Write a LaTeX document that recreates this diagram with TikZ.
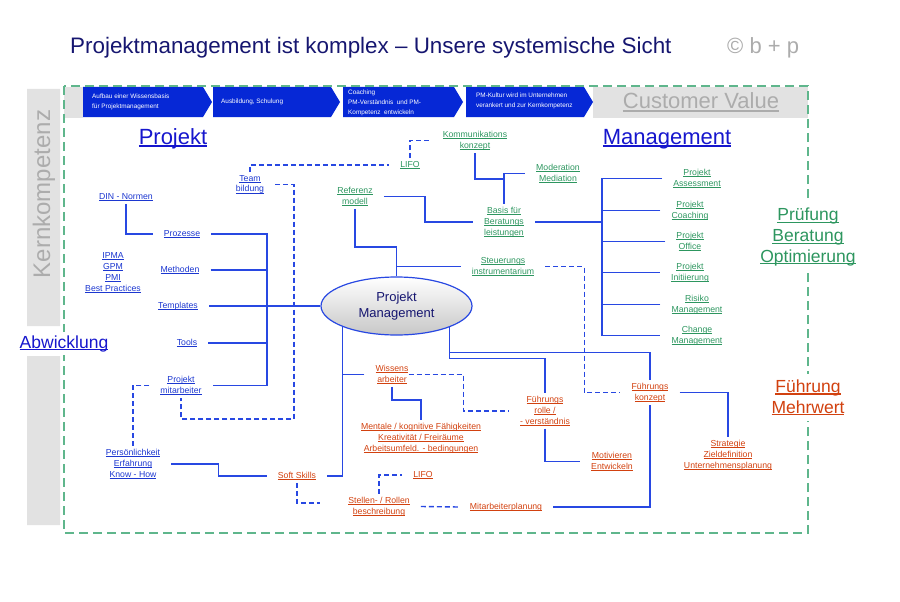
\documentclass[tikz,border=0pt]{standalone}
\usepackage{fontspec}
\setmainfont{Liberation Sans}
\usepackage{tikz}
\usetikzlibrary{calc,shapes.geometric,positioning}

\definecolor{pmblue}{RGB}{28,55,208}
\definecolor{lineblue}{RGB}{40,72,226}
\definecolor{bigblue}{RGB}{22,22,205}
\definecolor{pmgreen}{RGB}{45,150,95}
\definecolor{pmorange}{RGB}{210,65,15}
\definecolor{pmnavy}{RGB}{22,22,112}
\definecolor{pmgray}{RGB}{172,172,172}
\definecolor{bandgray}{RGB}{226,226,226}
\definecolor{chevblue}{RGB}{6,40,214}
\definecolor{framegreen}{RGB}{95,182,140}

\newsavebox\lnkbox
\newcommand\ulink[1]{\sbox\lnkbox{#1}\rlap{\rule[-0.13em]{\wd\lnkbox}{0.07em}}\usebox\lnkbox}

\begin{document}
\begin{tikzpicture}[x=1pt,y=-1pt,
  conn/.style={draw=lineblue,line width=1.4pt},
  dconn/.style={conn,dash pattern=on 5pt off 3pt},
  lbl/.style={font=\fontsize{8.7}{10.8}\selectfont,align=center,inner xsep=11pt,inner ysep=3pt},
  bluelbl/.style={lbl,text=pmblue},
  greenlbl/.style={lbl,text=pmgreen},
  redlbl/.style={lbl,text=pmorange},
  biglbl/.style={font=\fontsize{22}{26}\selectfont,anchor=base,inner sep=0pt},
  sidelbl/.style={font=\fontsize{17.5}{20.7}\selectfont,align=center,fill=white,inner xsep=3pt,inner ysep=6pt},
  chevtxt/.style={font=\fontsize{6.4}{10}\selectfont,text=white,align=left,anchor=west,inner sep=0pt}]

\useasboundingbox (0,0) rectangle (900,602);

\fill[bandgray] (27,89) rectangle (60,326) (27,356) rectangle (60,525);
\fill[bandgray] (64,87) rectangle (808,118);
\fill[white] (83,87) rectangle (593,118);
\foreach \a/\b in {83/212,213/340,343/463,466/593}
  \fill[chevblue] (\a,87) -- (\b-9,87) -- (\b,102) -- (\b-9,117) -- (\a,117) -- cycle;
\draw[framegreen,line width=1.3pt,dash pattern=on 9pt off 5pt] (64,86) rectangle (808,533);

\node[rotate=90,text=pmgray,font=\fontsize{24}{27}\selectfont] (kern) at (44,194) {Kernkompetenz};
\node[anchor=base west,text=pmnavy,font=\fontsize{22.4}{26}\selectfont,inner sep=0pt] (title) at (70,54)
  {Projektmanagement ist komplex – Unsere systemische Sicht};
\node[anchor=base west,text=pmgray,font=\fontsize{22}{26}\selectfont,inner sep=0pt] (copy) at (727,54) {© b + p};

\node[chevtxt] (chev1) at (92,101.5) {Aufbau einer Wissensbasis\\für Projektmanagement};
\node[chevtxt] (chev2) at (221,102) {Ausbildung, Schulung};
\node[chevtxt] (chev3) at (348,103) {Coaching\\PM-Verständnis\ \ und PM-\\Kompetenz\ \ entwickeln};
\node[chevtxt] (chev4) at (476,101) {PM-Kultur wird im Unternehmen\\verankert und zur Kernkompetenz};
\node[biglbl,text=pmgray] (cval) at (701,109) {\ulink{Customer Value}};

\node[biglbl,text=bigblue] (projekt) at (173,144) {\ulink{Projekt}};
\node[biglbl,text=bigblue] (mgmt) at (667,144) {\ulink{Management}};
\node[font=\fontsize{17.5}{21}\selectfont,anchor=base,text=bigblue,fill=white,inner sep=3pt] (abw) at (64,348) {\ulink{Abwicklung}};
\node[sidelbl,text=pmgreen] (pruef) at (808,237) {\ulink{Prüfung}\\\ulink{Beratung}\\\ulink{Optimierung}};
\node[sidelbl,text=pmorange] (fuehr) at (808,397.5) {\ulink{Führung}\\\ulink{Mehrwert}};

\node[ellipse,draw=lineblue,line width=1.2pt,top color=white,bottom color=black!22,
  minimum width=151pt,minimum height=58pt,inner sep=0pt,align=center,text=pmnavy,
  font=\fontsize{13}{16}\selectfont] (pm) at (396.5,306) {Projekt\\Management};

\node[bluelbl] (team) at (250,184.5) {\ulink{Team}\\\ulink{bildung}};
\node[bluelbl] (din) at (126,197) {\ulink{DIN - Normen}};
\node[bluelbl] (proz) at (182,234) {\ulink{Prozesse}};
\node[bluelbl] (ipma) at (113,272.5) {\ulink{IPMA}\\\ulink{GPM}\\\ulink{PMI}\\\ulink{Best Practices}};
\node[bluelbl] (meth) at (180,270) {\ulink{Methoden}};
\node[bluelbl] (templ) at (178,306) {\ulink{Templates}};
\node[bluelbl] (tools) at (187,343) {\ulink{Tools}};
\node[bluelbl] (mitarb) at (181,385.5) {\ulink{Projekt}\\\ulink{mitarbeiter}};
\node[bluelbl] (pers) at (133,464) {\ulink{Persönlichkeit}\\\ulink{Erfahrung}\\\ulink{Know - How}};

\node[greenlbl] (komm) at (475,140.5) {\ulink{Kommunikations}\\\ulink{konzept}};
\node[greenlbl] (lifo1) at (410,165) {\ulink{LIFO}};
\node[greenlbl] (moder) at (558,173.5) {\ulink{Moderation}\\\ulink{Mediation}};
\node[greenlbl] (ref) at (355,196.5) {\ulink{Referenz}\\\ulink{modell}};
\node[greenlbl] (basis) at (504,222) {\ulink{Basis für}\\\ulink{Beratungs}\\\ulink{leistungen}};
\node[greenlbl] (steuer) at (503,266.5) {\ulink{Steuerungs}\\\ulink{instrumentarium}};
\node[greenlbl] (assess) at (697,178.5) {\ulink{Projekt}\\\ulink{Assessment}};
\node[greenlbl] (coach) at (690,210.5) {\ulink{Projekt}\\\ulink{Coaching}};
\node[greenlbl] (office) at (690,241.5) {\ulink{Projekt}\\\ulink{Office}};
\node[greenlbl] (init) at (690,272.5) {\ulink{Projekt}\\\ulink{Initiierung}};
\node[greenlbl] (risiko) at (697,304.5) {\ulink{Risiko}\\\ulink{Management}};
\node[greenlbl] (change) at (697,335.5) {\ulink{Change}\\\ulink{Management}};

\node[redlbl] (wissen) at (392,374.5) {\ulink{Wissens}\\\ulink{arbeiter}};
\node[redlbl] (mental) at (421,438.5) {\ulink{Mentale / kognitive Fähigkeiten}\\\ulink{Kreativität / Freiräume}\\\ulink{Arbeitsumfeld. - bedingungen}};
\node[redlbl] (frolle) at (545,411) {\ulink{Führungs}\\\ulink{rolle /}\\\ulink{- verständnis}};
\node[redlbl] (fkonz) at (650,392.5) {\ulink{Führungs}\\\ulink{konzept}};
\node[redlbl] (motiv) at (612,461.5) {\ulink{Motivieren}\\\ulink{Entwickeln}};
\node[redlbl] (strat) at (728,455.5) {\ulink{Strategie}\\\ulink{Zieldefinition}\\\ulink{Unternehmensplanung}};
\node[redlbl] (soft) at (297,476) {\ulink{Soft Skills}};
\node[redlbl] (lifo2) at (423,475) {\ulink{LIFO}};
\node[redlbl] (stellen) at (379,506.5) {\ulink{Stellen- / Rollen}\\\ulink{beschreibung}};
\node[redlbl] (mplan) at (506,507) {\ulink{Mitarbeiterplanung}};

\coordinate (lbus) at (267,306);
\coordinate (rbus) at (602,221);
\coordinate (tcorner) at (294,419);

\draw[conn] (proz.east) -| (lbus) |- (mitarb.east);
\draw[conn] (meth.east) -- (meth.east -| lbus) (tools.east) -- (tools.east -| lbus);
\draw[conn] (templ.east) -- (pm.west);
\draw[conn] (din.south) |- (proz.west);
\draw[dconn] (team.north) |- (lifo1.west);
\draw[dconn] (lifo1.north) |- (komm.west);
\draw[dconn] (team.east) -| (tcorner) -| (mitarb.south);
\draw[dconn] (mitarb.west) -| (pers.north);
\draw[conn] (pers.east) -- ++(47,0) |- (soft.west);
\draw[conn] (soft.east) -| (pm.201.6);
\draw[conn] (wissen.west) -- (wissen.west -| pm.201.6);
\draw[conn] (wissen.south) -- ++(0,13) -| (mental.north);
\draw[dconn] ([xshift=-11pt]wissen.east) -- ++(55,0) |- (frolle.west);
\draw[conn] (pm.338.4) -- ++(0,31) -| (frolle.north);
\draw[conn] (pm.338.4) -- ++(0,25) -| (fkonz.north);
\draw[conn] (frolle.south) |- (motiv.west);
\draw[conn] (fkonz.east) -| (strat.north);
\draw[conn] (mplan.east) -| (fkonz.south);
\draw[dconn] (stellen.east) -- (mplan.west);
\draw[dconn] (soft.south) |- ([xshift=-17pt,yshift=3.5pt]stellen.west);
\draw[dconn] (stellen.north) |- (lifo2.west);
\draw[dconn] (steuer.east) -- ++(39,0) |- (fkonz.west);

\draw[conn] (ref.south) -- ++(0,38) -| (pm.north);
\draw[conn] (steuer.west) -- (steuer.west -| pm.north);
\draw[conn] (ref.east) -- ++(41,0) |- (basis.west);
\draw[conn] (basis.north) |- (moder.west);
\draw[conn] (komm.south) -- ++(0,26) -| (basis.north);
\draw[conn] (basis.east) -- (basis.east -| rbus);
\draw[conn] (assess.west) -| (rbus) |- (change.west);
\foreach \n in {coach,office,init,risiko}
  \draw[conn] (\n.west) -- (\n.west -| rbus);
\end{tikzpicture}
\end{document}
